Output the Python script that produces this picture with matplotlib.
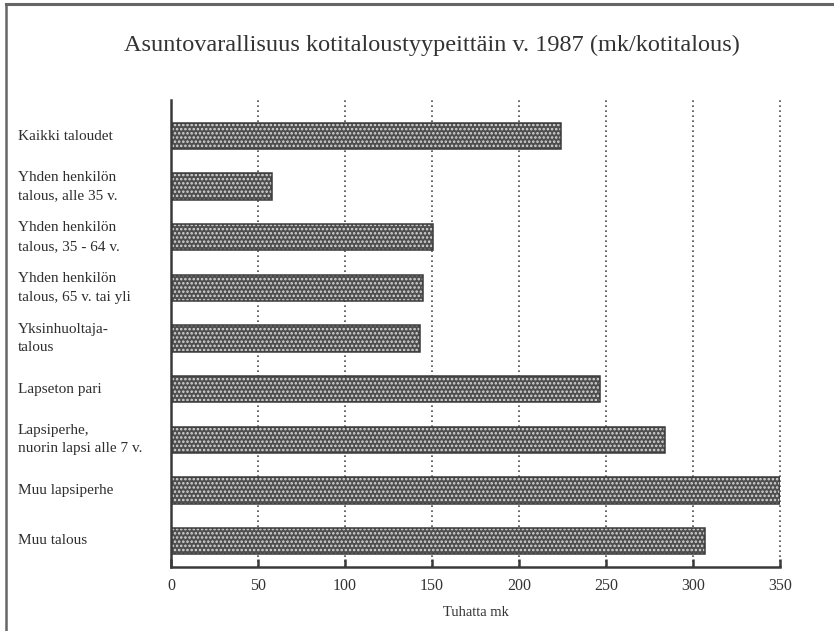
import matplotlib
matplotlib.use("Agg")
import matplotlib.pyplot as plt
from matplotlib.lines import Line2D

categories = [
    "Kaikki taloudet",
    "Yhden henkilön\ntalous, alle 35 v.",
    "Yhden henkilön\ntalous, 35 - 64 v.",
    "Yhden henkilön\ntalous, 65 v. tai yli",
    "Yksinhuoltaja-\ntalous",
    "Lapseton pari",
    "Lapsiperhe,\nnuorin lapsi alle 7 v.",
    "Muu lapsiperhe",
    "Muu talous",
]
values = [224, 58, 150.5, 145, 143, 246.5, 284, 350, 307]
xticks = [0, 50, 100, 150, 200, 250, 300, 350]

title = "Asuntovarallisuus kotitaloustyypeittäin v. 1987 (mk/kotitalous)"
xlabel = "Tuhatta mk"

plt.rcParams["font.family"] = ["Liberation Serif", "DejaVu Serif"]
plt.rcParams["hatch.linewidth"] = 1.2

W, H = 834, 631
fig = plt.figure(figsize=(W / 100, H / 100), dpi=100)

# axes box in pixel coordinates
left, right, top, bottom = 171, 780, 100, 567
ax = fig.add_axes([left / W, 1 - bottom / H, (right - left) / W, (bottom - top) / H])

ypos = list(range(len(categories)))
# dotted screen: gray fill with light dots, then a dark outline
ax.barh(ypos, values, height=0.52, color="#4e4e4e", edgecolor="#d8d8d8",
        hatch="....", linewidth=0, zorder=2)
ax.barh(ypos, values, height=0.52, fill=False, edgecolor="#3a3a3a",
        linewidth=1.1, zorder=3)

ax.set_xlim(0, 350)
ax.set_ylim(len(categories) - 1 + 0.51, -0.71)

for x in xticks[1:]:
    ax.axvline(x, color="#4a4a4a", linestyle=(0, (1, 2)), linewidth=1.2,
               zorder=1, clip_on=False)

for s in ["top", "right"]:
    ax.spines[s].set_visible(False)
ax.spines["left"].set_linewidth(1.8)
ax.spines["left"].set_color("#3a3a3a")
ax.spines["bottom"].set_linewidth(1.8)
ax.spines["bottom"].set_color("#3a3a3a")

ax.set_xticks(xticks)
ax.set_xticklabels([str(v) for v in xticks], fontsize=11.5, color="#333333")
ax.tick_params(axis="x", direction="in", length=6, width=1.8, color="#3a3a3a", pad=8)
ax.set_yticks([])

for i, c in enumerate(categories):
    fig.text(18 / W, 1 - (136 + i * 50.6) / H, c, ha="left", va="center",
             fontsize=11, color="#2e2e2e", linespacing=1.55)

fig.text(432 / W, 1 - 45 / H, title, ha="center", va="center",
         fontsize=17.5, color="#333333")
fig.text((left + right) / 2 / W, 1 - 613 / H, xlabel, ha="center", va="center",
         fontsize=10.5, color="#333333")

# page frame: top and left edge
fig.add_artist(Line2D([6 / W, 1], [1 - 4 / H, 1 - 4 / H], transform=fig.transFigure,
                      color="#666666", linewidth=2.2))
fig.add_artist(Line2D([6 / W, 6 / W], [0, 1 - 4 / H], transform=fig.transFigure,
                      color="#666666", linewidth=1.8))

fig.savefig("out.png", dpi=100)
